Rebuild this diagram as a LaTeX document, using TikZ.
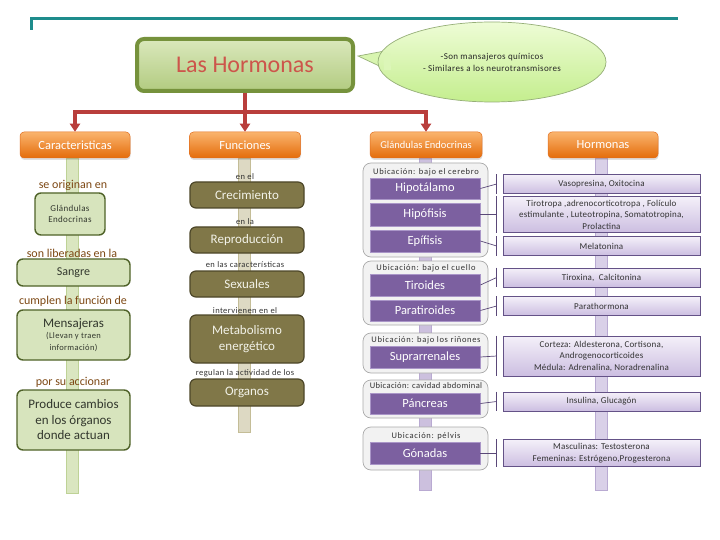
\documentclass[tikz,border=0pt]{standalone}
\usepackage{fontspec}
\setmainfont{Carlito}
\newfontfamily\spA[LetterSpace=2]{Carlito}
\newfontfamily\spB[LetterSpace=4]{Carlito}
\newfontfamily\spC[LetterSpace=5]{Carlito}
\newfontfamily\spD[LetterSpace=8]{Carlito}
\usetikzlibrary{shapes.geometric,arrows.meta,calc,shadows}
\definecolor{tealc}{RGB}{30,140,140}
\definecolor{arrowred}{RGB}{185,62,60}
\definecolor{orTop}{RGB}{250,180,110}
\definecolor{orBot}{RGB}{228,108,10}
\definecolor{orBorder}{RGB}{226,110,30}
\definecolor{lgreen}{RGB}{215,228,189}
\definecolor{dgreen}{RGB}{79,98,40}
\definecolor{gtext}{RGB}{50,55,45}
\definecolor{lbltext}{RGB}{125,72,20}
\definecolor{olivef}{RGB}{128,119,72}
\definecolor{oliveb}{RGB}{77,71,41}
\definecolor{olivetext}{RGB}{242,242,232}
\definecolor{glpurple}{RGB}{124,96,160}
\definecolor{glborder}{RGB}{170,150,200}
\definecolor{hTop}{RGB}{244,240,249}
\definecolor{hBot}{RGB}{204,190,225}
\definecolor{hBorder}{RGB}{100,82,135}
\definecolor{brk}{RGB}{90,72,120}
\definecolor{grpfill}{RGB}{242,242,242}
\definecolor{grpdraw}{RGB}{170,170,170}
\definecolor{titleTop}{RGB}{218,232,188}
\definecolor{titleBot}{RGB}{178,203,128}
\definecolor{titleBorder}{RGB}{118,146,60}
\definecolor{titleText}{RGB}{205,85,75}
\definecolor{bubTop}{RGB}{238,252,214}
\definecolor{bubBot}{RGB}{196,238,142}
\definecolor{bubBorder}{RGB}{150,175,120}
\definecolor{bubTail}{RGB}{216,245,176}
\definecolor{bubPatch}{RGB}{220,246,184}
\definecolor{bargreen}{RGB}{218,230,192}
\definecolor{bargreenb}{RGB}{190,210,150}
\definecolor{barolive}{RGB}{221,217,195}
\definecolor{baroliveb}{RGB}{196,189,151}
\definecolor{barpurple}{RGB}{204,192,222}
\definecolor{barpurpleb}{RGB}{185,170,210}
\definecolor{barhor}{RGB}{217,208,232}
\begin{document}
\begin{tikzpicture}[x=1pt,y=-1pt,
  hdr/.style={rounded corners=4pt, top color=orTop, bottom color=orBot, draw=orBorder, line width=0.5pt,
    text=white, font=\fontsize{12.5}{14}\selectfont, minimum width=110pt, minimum height=26pt, inner sep=0pt,
    drop shadow={opacity=0.25, shadow xshift=0.5pt, shadow yshift=-2pt}},
  greenbox/.style={rounded corners=6pt, fill=lgreen, draw=dgreen, line width=1.4pt, text=gtext,
    minimum width=113pt, inner sep=0pt, align=center},
  olivebox/.style={rounded corners=6pt, fill=olivef, draw=oliveb, line width=1.2pt, text=olivetext,
    minimum width=114pt, inner sep=0pt, align=center, font=\fontsize{13}{15.5}\selectfont},
  lbl/.style={text=lbltext, font=\fontsize{12}{13}\selectfont, inner sep=0pt},
  flbl/.style={text=black!80, font=\spC\fontsize{8.5}{9}\selectfont, inner sep=0pt},
  grp/.style={rounded corners=8pt, fill=grpfill, draw=grpdraw, line width=0.7pt},
  glbl/.style={text=black!80, font=\spD\fontsize{8.5}{9}\selectfont, inner sep=0pt},
  gland/.style={fill=glpurple, draw=glborder, line width=0.8pt, text=white, minimum width=110pt,
    inner sep=0pt, font=\fontsize{12.5}{14}\selectfont},
  horm/.style={top color=hTop, bottom color=hBot, draw=hBorder, line width=0.7pt, text=black!80,
    minimum width=197pt, inner sep=0pt, align=center, font=\spA\fontsize{9}{11.5}\selectfont},
  redline/.style={draw=arrowred, line width=3.5pt},
  redarrow/.style={draw=arrowred, line width=3.5pt, -{Triangle[width=10pt,length=8pt]}},
  brkline/.style={draw=brk, line width=0.7pt}
]
\useasboundingbox (0,0) rectangle (720,540);
\fill[white] (0,0) rectangle (720,540);

% teal top rule
\draw[tealc, line width=3pt] (31,30) -- (31,19) -- (678,19);

% title and bubble
\node[rounded corners=7pt, top color=titleTop, bottom color=titleBot, draw=titleBorder, line width=4pt,
  minimum width=216pt, minimum height=52pt, inner sep=0pt, text=titleText,
  font=\fontsize{24}{26}\selectfont] (title) at (245,65) {Las Hormonas};
\filldraw[draw=bubBorder, fill=bubTail, line width=0.7pt] (390,50) -- (358,56) -- (392,72);
\node[ellipse, top color=bubTop, bottom color=bubBot, draw=bubBorder, line width=0.7pt,
  minimum width=228pt, minimum height=80pt, inner sep=0pt, align=center,
  font=\spB\fontsize{9}{12}\selectfont, text=black!85] (bubble) at (492,62)
  {-Son mansajeros químicos\\- Similares a los neurotransmisores};
\fill[bubPatch] (383,52) -- (390,54) -- (391,70) -- (384,70) -- cycle;

% vertical bars
\path[fill=bargreen, draw=bargreenb, line width=0.5pt] (66,158) rectangle (78,493);
\path[fill=barolive, draw=baroliveb, line width=0.5pt] (238,158) rectangle (250,432);
\path[fill=barpurple, draw=barpurpleb, line width=0.5pt] (419,158) rectangle (431,490);
\path[fill=barhor, draw=barpurpleb, line width=0.5pt] (595,158) rectangle (607,490);

% headers
\node[hdr] (hcar) at (75,145) {Caracteristicas};
\node[hdr, minimum width=111pt] (hfun) at (245,145) {Funciones};
\node[hdr, minimum width=112pt, font=\fontsize{10.5}{12}\selectfont] (hgla) at (426,145) {Glándulas Endocrinas};
\node[hdr] (hhor) at (603,145) {Hormonas};

% arrows
\coordinate (j) at (245,112);
\draw[redline] (title.south) -- (j);
\draw[redarrow] (j) -| (hcar.north);
\draw[redarrow] (j) -- (hfun.north);
\draw[redarrow] (j) -| (hgla.north);

% left column
\node[lbl] (l1) at (73,185) {se originan en};
\node[greenbox, minimum width=70pt, minimum height=42pt, font=\spB\fontsize{9}{11}\selectfont] (glen) at (70,214) {Glándulas\\Endocrinas};
\node[lbl] (l2) at (72,253) {son liberadas en la};
\node[greenbox, minimum height=27pt, font=\fontsize{12}{13}\selectfont] (sangre) at (73.5,272.5) {Sangre};
\node[lbl] (l3) at (73,301) {cumplen la función de};
\node[greenbox, minimum height=50pt] (mens) at (73.5,335)
  {{\fontsize{13}{14}\selectfont Mensajeras}\\[-1pt]{\spB\fontsize{8.5}{10}\selectfont (Llevan y traen}\\{\spB\fontsize{8.5}{10}\selectfont información)}};
\node[lbl] (l4) at (73,382) {por su accionar};
\node[greenbox, minimum height=60pt, font=\fontsize{13}{15.5}\selectfont] (prod) at (73.5,420)
  {Produce cambios\\en los órganos\\donde actuan};

% funciones column
\node[flbl] (f1) at (245,177) {en el};
\node[olivebox, minimum height=26pt] (crec) at (247,195) {Crecimiento};
\node[flbl] (f2) at (245,222) {en la};
\node[olivebox, minimum height=26pt] (repr) at (247,240) {Reproducción};
\node[flbl] (f3) at (245,265) {en las características};
\node[olivebox, minimum height=26pt] (sexu) at (247,284) {Sexuales};
\node[flbl] (f4) at (245,311) {intervienen en el};
\node[olivebox, minimum height=48pt] (meta) at (247,339) {Metabolismo\\energético};
\node[flbl] (f5) at (245,373) {regulan la actividad de los};
\node[olivebox, minimum height=27pt] (orga) at (247,392.5) {Organos};

% gland groups
\path[grp] (363,163) rectangle (488,257);
\path[grp] (363,261) rectangle (488,325);
\path[grp] (363,333) rectangle (488,373);
\path[grp] (363,380) rectangle (488,418);
\path[grp] (363,427) rectangle (488,470);
\node[glbl] (u1) at (426,172) {Ubicación: bajo el cerebro};
\node[glbl] (u2) at (426,268) {Ubicación: bajo el cuello};
\node[glbl] (u3) at (426,340) {Ubicación: bajo los riñones};
\node[glbl, font=\spB\fontsize{8.5}{9}\selectfont] (u4) at (426,386) {Ubicación: cavidad abdominal};
\node[glbl] (u5) at (426,436) {Ubicación: pélvis};

\node[gland, minimum height=21pt] (hipot) at (425,188.5) {Hipotálamo};
\node[gland, minimum height=23pt] (hipof) at (425,214.5) {Hipófisis};
\node[gland, minimum height=22pt] (epif) at (425,241) {Epífisis};
\node[gland, minimum height=22pt] (tiroi) at (425,285) {Tiroides};
\node[gland, minimum height=21pt] (parat) at (425,310.5) {Paratiroides};
\node[gland, minimum height=22pt] (supra) at (425,357) {Suprarrenales};
\node[gland, minimum height=21pt] (panc) at (425,403.5) {Páncreas};
\node[gland, minimum height=22pt] (gona) at (425,453) {Gónadas};

% hormone boxes
\node[horm, minimum height=19pt] (vaso) at (601.5,184) {Vasopresina, Oxitocina};
\node[horm, minimum height=36pt] (tirot) at (601.5,214.5)
  {Tirotropa ,adrenocorticotropa , Folículo\\estimulante , Luteotropina, Somatotropina,\\Prolactina};
\node[horm, minimum height=19pt] (mela) at (601.5,246) {Melatonina};
\node[horm, minimum height=19pt] (tirox) at (601.5,277.5) {Tiroxina,\ \ Calcitonina};
\node[horm, minimum height=19pt] (parah) at (601.5,306) {Parathormona};
\node[horm, minimum height=40pt] (cort) at (601.5,356)
  {Corteza: Aldesterona, Cortisona,\\Androgenocorticoides\\Médula: Adrenalina, Noradrenalina};
\node[horm, minimum height=19pt] (insu) at (601.5,401.5) {Insulina, Glucagón};
\node[horm, minimum height=27pt] (masc) at (601.5,453) {Masculinas: Testosterona\\Femeninas: Estrógeno,Progesterona};

% bracket connectors
\foreach \g/\h in {hipot/vaso, hipof/tirot, epif/mela, tiroi/tirox, parat/parah, supra/cort, panc/insu, gona/masc}{
  \draw[brkline] ($(\h.north west)+(-6,0)$) -- ($(\h.south west)+(-6,0)$);
  \draw[brkline] (\g.east) -- ($(\h.west)+(-6,0)$);
}
\end{tikzpicture}
\end{document}
